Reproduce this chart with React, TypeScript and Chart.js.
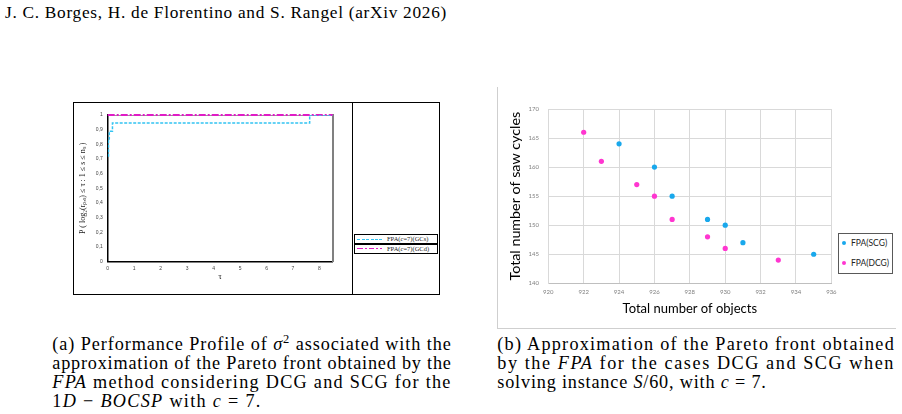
import React, { useEffect, useLayoutEffect, useRef } from "react";
import { Chart, registerables } from "chart.js";
Chart.register(...registerables);

// ---- Figure (a): performance profile ----
const tauGCs = [0, 0.03, 0.06, 0.18, 7.63, 8.5];
const probGCs = [0.72, 0.83, 0.89, 0.945, 1, 1];
const tauGCd = [0, 8.5];
const probGCd = [1, 1];
const profileXTicks = [0, 1, 2, 3, 4, 5, 6, 7, 8];
const profileYTicks = [0, 0.1, 0.2, 0.3, 0.4, 0.5, 0.6, 0.7, 0.8, 0.9, 1];
const profileLabels = ["FPA(c=7)(GCs)", "FPA(c=7)(GCd)"];

// ---- Figure (b): Pareto front ----
const scgObjects = [924, 926, 927, 929, 930, 931, 935];
const scgCycles = [164, 160, 155, 151, 150, 147, 145];
const dcgObjects = [922, 923, 925, 926, 927, 929, 930, 933];
const dcgCycles = [166, 161, 157, 155, 151, 148, 146, 144];
const paretoLabels = ["FPA(SCG)", "FPA(DCG)"];

const CYAN = "#33c4f2";
const MAGENTA = "#e01cc6";
const SCG_COLOR = "#19a8ec";
const DCG_COLOR = "#ff36d0";

function fmtComma(v: number) {
  if (v === 0) return "0";
  if (v === 1) return "1";
  return v.toFixed(1).replace(".", ",");
}

function makeProfile(): any {
  return {
    type: "line",
    data: {
      datasets: [
        {
          label: profileLabels[0],
          data: tauGCs.map((x, i) => ({ x, y: probGCs[i] })),
          borderColor: CYAN,
          borderWidth: 1.5,
          borderDash: [3, 1.5],
          stepped: "before",
          pointRadius: 0,
          fill: false,
          xAxisID: "x",
          yAxisID: "y",
        },
        {
          label: profileLabels[1],
          data: tauGCd.map((x, i) => ({ x, y: probGCd[i] })),
          borderColor: MAGENTA,
          borderWidth: 2,
          borderDash: [7, 2, 2, 2],
          stepped: "before",
          pointRadius: 0,
          fill: false,
          clip: 4,
          xAxisID: "x",
          yAxisID: "y",
        },
      ],
    },
    options: {
      responsive: false,
      animation: false,
      layout: { padding: { top: 12, right: 18.3, left: 0, bottom: 0 } },
      plugins: { legend: { display: false }, tooltip: { enabled: false } },
      scales: {
        x: {
          type: "linear",
          position: "bottom",
          min: 0,
          max: 8.5,
          afterBuildTicks: (s: any) => {
            s.ticks = profileXTicks.map((v) => ({ value: v }));
          },
          ticks: {
            font: { size: 5, family: "Liberation Sans" },
            color: "#444",
            padding: 4,
            maxRotation: 0,
            autoSkip: false,
          },
          grid: { display: false, drawTicks: false },
          border: { color: "#000", width: 1.5 },
          title: {
            display: true,
            text: "τ",
            font: { size: 8, family: "Liberation Serif" },
            color: "#000",
            padding: { top: 0, bottom: 11 },
          },
          afterFit: (s: any) => {
            s.height = 31.3;
          },
        },
        xt: {
          type: "linear",
          position: "top",
          min: 0,
          max: 8.5,
          ticks: { display: false },
          grid: { display: false, drawTicks: false },
          border: { color: "#9a9a9a", width: 1 },
          afterFit: (s: any) => {
            s.height = 0;
          },
        },
        y: {
          type: "linear",
          position: "left",
          min: 0,
          max: 1,
          afterBuildTicks: (s: any) => {
            s.ticks = profileYTicks.map((v) => ({ value: v }));
          },
          ticks: {
            callback: (v: any) => fmtComma(Number(v)),
            font: { size: 5, family: "Liberation Sans" },
            color: "#444",
            padding: 5,
            autoSkip: false,
          },
          grid: { display: false, drawTicks: false },
          border: { color: "#000", width: 1.5 },
          title: {
            display: true,
            text: "P ( log₂(rₚ,ₛ) ≤ τ : 1 ≤ s ≤ nₛ )",
            font: { size: 8, family: "Liberation Serif" },
            color: "#222",
            padding: { top: 4.2, bottom: 0 },
          },
          afterFit: (s: any) => {
            s.width = 33.7;
          },
        },
        yr: {
          type: "linear",
          position: "right",
          min: 0,
          max: 1,
          ticks: { display: false },
          grid: { display: false, drawTicks: false },
          border: { color: "#808080", width: 2 },
          afterFit: (s: any) => {
            s.width = 0;
          },
        },
      },
    },
  };
}

function makePareto(): any {
  return {
    type: "scatter",
    data: {
      datasets: [
        {
          label: paretoLabels[0],
          data: scgObjects.map((x, i) => ({ x, y: scgCycles[i] })),
          backgroundColor: SCG_COLOR,
          borderWidth: 0,
          pointRadius: 2.6,
        },
        {
          label: paretoLabels[1],
          data: dcgObjects.map((x, i) => ({ x, y: dcgCycles[i] })),
          backgroundColor: DCG_COLOR,
          borderWidth: 0,
          pointRadius: 2.6,
        },
      ],
    },
    options: {
      responsive: false,
      animation: false,
      layout: { padding: { top: 14, right: 7.7, left: 0, bottom: 0 } },
      plugins: { legend: { display: false }, tooltip: { enabled: false } },
      scales: {
        x: {
          type: "linear",
          min: 920,
          max: 936,
          ticks: {
            stepSize: 2,
            font: { size: 6, family: "Lato" },
            color: "#7f7f7f",
            padding: 5.4,
            maxRotation: 0,
          },
          grid: { color: "#d9d9d9", lineWidth: 1, drawTicks: false },
          border: { color: "#bfbfbf", width: 1 },
          title: {
            display: true,
            text: "Total number of objects",
            font: { size: 13, family: "Lato" },
            color: "#000",
            padding: { top: 0, bottom: 3.2 },
          },
          afterFit: (s: any) => {
            s.height = 36.7;
          },
        },
        y: {
          type: "linear",
          min: 140,
          max: 170,
          ticks: {
            stepSize: 5,
            font: { size: 6, family: "Lato" },
            color: "#7f7f7f",
            padding: 9.3,
          },
          grid: { color: "#d9d9d9", lineWidth: 1, drawTicks: false },
          border: { color: "#d9d9d9", width: 1 },
          title: {
            display: true,
            text: "Total number of saw cycles",
            font: { size: 14.3, family: "Lato" },
            color: "#000",
            padding: { top: 6.5, bottom: 0 },
          },
          afterFit: (s: any) => {
            s.width = 48.3;
          },
        },
      },
    },
  };
}

function ChartBox(props: { left: number; top: number; width: number; height: number; make: () => any }) {
  const ref = useRef<HTMLCanvasElement>(null);
  useEffect(() => {
    const chart = new Chart(ref.current as HTMLCanvasElement, props.make());
    return () => chart.destroy();
  }, []);
  return (
    <canvas
      ref={ref}
      width={props.width}
      height={props.height}
      style={{ position: "absolute", left: props.left, top: props.top, width: props.width, height: props.height }}
    />
  );
}

// A single line of text that is letter-spaced to run from `left` to `right`.
function FitLine(props: { left: number; right: number; baseline: number; size?: number; children: any }) {
  const size = props.size ?? 18.2;
  const lh = 22;
  const top = props.baseline - ((lh - 1.107 * size) / 2 + 0.891 * size);
  const ref = useRef<HTMLDivElement>(null);
  useLayoutEffect(() => {
    const el = ref.current;
    if (!el) return;
    el.style.letterSpacing = "0px";
    const w = el.getBoundingClientRect().width;
    const n = (el.textContent || "").length;
    const ls = (props.right - props.left - w) / Math.max(n, 1);
    el.style.letterSpacing = ls + "px";
  }, []);
  return (
    <div
      ref={ref}
      style={{
        position: "absolute",
        left: props.left,
        top,
        height: lh,
        lineHeight: lh + "px",
        fontSize: size,
        whiteSpace: "nowrap",
        display: "inline-block",
      }}
    >
      {props.children}
    </div>
  );
}

const sup = { fontSize: 12.5, position: "relative" as const, top: -7, lineHeight: 0 };

export default function App() {
  return (
    <div
      style={{
        position: "absolute",
        left: 0,
        top: 0,
        width: 902,
        height: 414,
        overflow: "hidden",
        background: "#fff",
        color: "#000",
        fontFamily: '"Liberation Serif", serif',
      }}
    >
      <FitLine left={5} right={447} baseline={18.5} size={17.3}>
        J. C. Borges, H. de Florentino and S. Rangel (arXiv 2026)
      </FitLine>

      {/* Figure (a) frame */}
      <div style={{ position: "absolute", left: 73, top: 101.5, width: 364.5, height: 191.5, border: "1.5px solid #000" }} />
      <div style={{ position: "absolute", left: 351.5, top: 102, width: 1.5, height: 192, background: "#000" }} />
      <ChartBox left={74} top={103} width={277} height={190} make={makeProfile} />

      {/* Figure (a) legend */}
      {[0, 1].map((i) => (
        <div
          key={i}
          style={{
            position: "absolute",
            left: 354,
            top: 234 + i * 9.5,
            width: 82,
            height: 8,
            border: "1px solid #000",
            boxSizing: "content-box",
          }}
        >
          <div
            style={{
              position: "absolute",
              left: 2,
              top: 3.5,
              width: 25,
              height: 1.3,
              background:
                i === 0
                  ? `repeating-linear-gradient(to right, ${CYAN} 0 3px, transparent 3px 4.5px)`
                  : `repeating-linear-gradient(to right, ${MAGENTA} 0 6px, transparent 6px 8px, ${MAGENTA} 8px 9.5px, transparent 9.5px 11.5px)`,
            }}
          />
          <div
            style={{
              position: "absolute",
              left: 32,
              top: 0,
              height: 8,
              lineHeight: "8px",
              fontSize: 6.5,
              whiteSpace: "nowrap",
              color: "#222",
            }}
          >
            FPA(<i>c</i>=7)({i === 0 ? "GCs" : "GCd"})
          </div>
        </div>
      ))}

      {/* Figure (b) frame */}
      <div style={{ position: "absolute", left: 497, top: 87, width: 1, height: 241, background: "#cfcfcf" }} />
      <div style={{ position: "absolute", left: 497, top: 327.5, width: 399, height: 1, background: "#cfcfcf" }} />
      <ChartBox left={500} top={95} width={342} height={225} make={makePareto} />

      {/* Figure (b) legend */}
      <div
        style={{
          position: "absolute",
          left: 838,
          top: 233,
          width: 53,
          height: 39,
          border: "1px solid #595959",
          background: "#fff",
          fontFamily: "Lato, sans-serif",
          fontSize: 8.5,
          color: "#222",
        }}
      >
        {[0, 1].map((i) => (
          <React.Fragment key={i}>
            <div
              style={{
                position: "absolute",
                left: 3,
                top: 8.5 + i * 20 - 2,
                width: 4,
                height: 4,
                borderRadius: 2,
                background: i === 0 ? SCG_COLOR : DCG_COLOR,
              }}
            />
            <div
              style={{
                position: "absolute",
                left: 12,
                top: 8.5 + i * 20 - 5,
                height: 10,
                lineHeight: "10px",
                whiteSpace: "nowrap",
              }}
            >
              {paretoLabels[i]}
            </div>
          </React.Fragment>
        ))}
      </div>

      {/* Caption (a) */}
      <FitLine left={52.3} right={451.7} baseline={350}>
        (a) Performance Profile of <i>σ</i>
        <span style={sup}>2</span> associated with the
      </FitLine>
      <FitLine left={52.3} right={451.7} baseline={369}>
        approximation of the Pareto front obtained by the
      </FitLine>
      <FitLine left={52.3} right={451.7} baseline={388}>
        <i>FPA</i> method considering DCG and SCG for the
      </FitLine>
      <FitLine left={52.3} right={261.7} baseline={407}>
        1<i>D</i> − <i>BOCSP</i> with <i>c</i> = 7.
      </FitLine>

      {/* Caption (b) */}
      <FitLine left={497.3} right={895} baseline={350}>
        (b) Approximation of the Pareto front obtained
      </FitLine>
      <FitLine left={497.3} right={895} baseline={369}>
        by the <i>FPA</i> for the cases DCG and SCG when
      </FitLine>
      <FitLine left={497.3} right={766.7} baseline={388}>
        solving instance <i>S</i>/60, with <i>c</i> = 7.
      </FitLine>
    </div>
  );
}
